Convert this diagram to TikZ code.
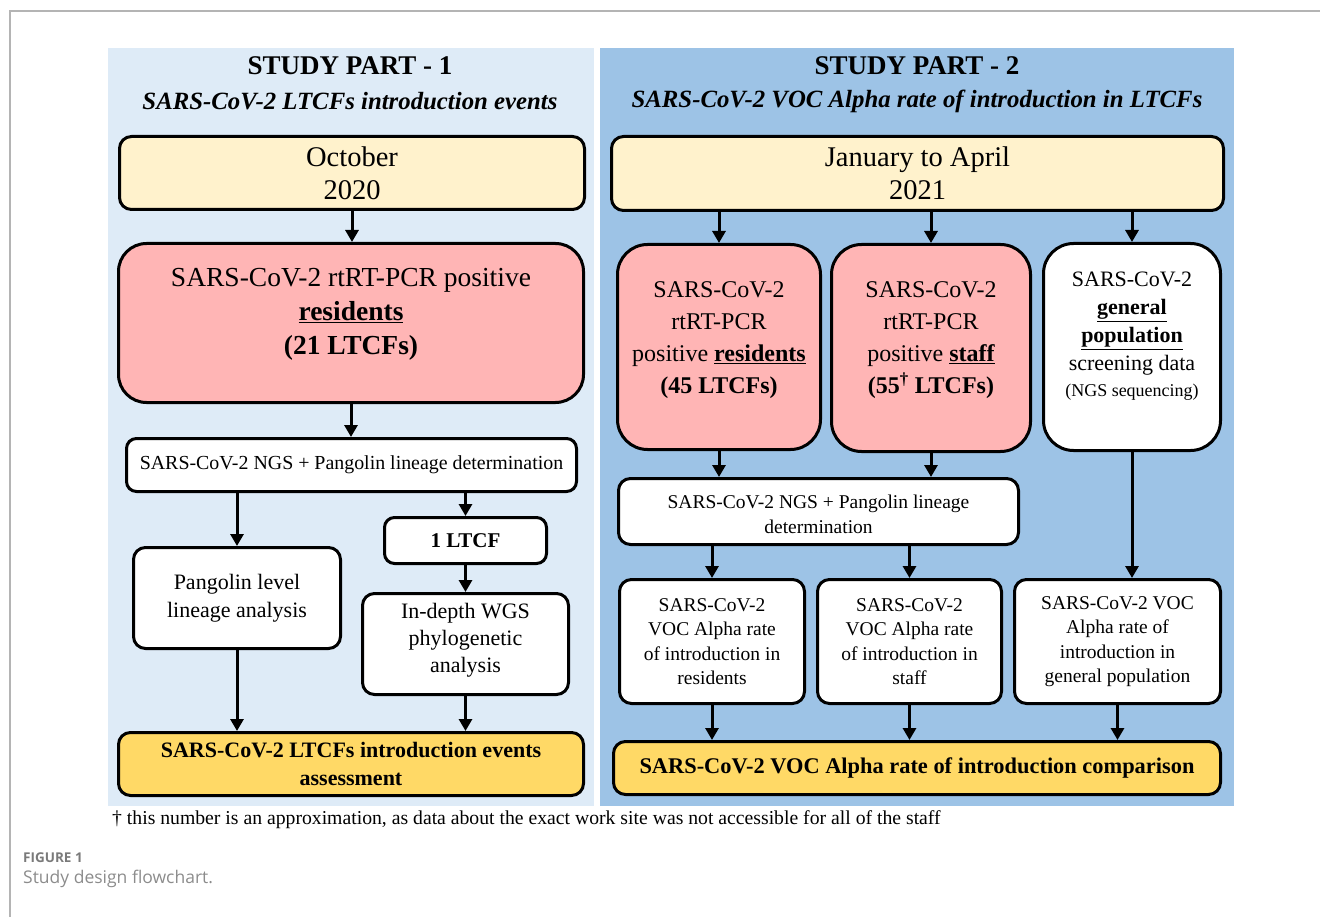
\documentclass[tikz,border=0pt]{standalone}
\usepackage{fontspec}
\setmainfont{Liberation Serif}
\newfontfamily\capfont{Open Sans}
\usetikzlibrary{arrows.meta}
\definecolor{bgL}{HTML}{DEEBF7}
\definecolor{bgR}{HTML}{9DC3E6}
\definecolor{cream}{HTML}{FFF2CC}
\definecolor{pinkf}{HTML}{FFB5B5}
\definecolor{gold}{HTML}{FFD966}
\definecolor{capgray}{HTML}{7A7A7A}
\definecolor{capgrayl}{HTML}{8C8C8C}
\definecolor{framegray}{HTML}{B4B4B4}
\newcommand{\fsz}[2]{\fontsize{#1}{#2}\selectfont}
\begin{document}
\begin{tikzpicture}[x=1pt,y=-1pt,
  box/.style={draw=black, line width=3pt, rounded corners=12pt, align=center, inner sep=0pt, fill=white},
  arr/.style={line width=3pt, -{Triangle[length=12pt,width=13pt]}},
  txt/.style={align=center, inner sep=0pt},
]
\useasboundingbox (0,0) rectangle (1320,917);
\draw[framegray, line width=1.5pt] (10,917) -- (10,11) -- (1320,11);
\fill[bgL] (108,48) rectangle (594,806);
\fill[bgR] (600,48) rectangle (1234,806);

% ---------- Part 1 ----------
\node[txt, font={\fsz{27}{30}\bfseries}] (t1) at (350,66) {STUDY PART - 1};
\node[txt, font={\fsz{24.8}{28}\bfseries\itshape}] (s1) at (350,101) {SARS-CoV-2 LTCFs introduction events};

\node[box, fill=cream, minimum width=465pt, minimum height=73pt, font={\fsz{28.5}{33}}] (oct) at (352,173)
  {October\\2020};
\node[box, fill=pinkf, rounded corners=28pt, minimum width=465pt, minimum height=159pt] (resL) at (351,323) {};
\node[txt, font={\fsz{27.5}{34}}] (resLt) at (351,314)
  {SARS-CoV-2 rtRT-PCR positive\\\textbf{\underline{residents}}\\\textbf{(21 LTCFs)}};
\node[box, rounded corners=10pt, minimum width=450pt, minimum height=53pt, font={\fsz{19.9}{23}}] (ngsL) at (351.5,465)
  {SARS-CoV-2 NGS + Pangolin lineage determination};
\node[box, rounded corners=10pt, minimum width=162pt, minimum height=46pt, font={\fsz{21}{25}\bfseries}] (one) at (465.5,540.5)
  {1 LTCF};
\node[box, minimum width=207pt, minimum height=101pt, font={\fsz{22}{28}}] (pang) at (237,598)
  {Pangolin level\\lineage analysis};
\node[box, minimum width=206pt, minimum height=101pt] (wgs) at (465.5,644) {};
\node[txt, font={\fsz{22}{27}}] (wgst) at (465.5,640)
  {In-depth WGS\\phylogenetic\\analysis};
\node[box, fill=gold, minimum width=465pt, minimum height=63pt, font={\fsz{22}{28}\bfseries}] (botL) at (351,764)
  {SARS-CoV-2 LTCFs introduction events\\assessment};

\draw[arr] (oct.south) -- (oct.south |- resL.north);
\draw[arr] (resL.south) -- (resL.south |- ngsL.north);
\draw[arr] (ngsL.south -| pang) -- (pang.north);
\draw[arr] (ngsL.south -| one) -- (one.north);
\draw[arr] (one.south) -- (wgs.north);
\draw[arr] (pang.south) -- (pang.south |- botL.north);
\draw[arr] (wgs.south) -- (wgs.south |- botL.north);

% ---------- Part 2 ----------
\node[txt, font={\fsz{27}{30}\bfseries}] (t2) at (917,66) {STUDY PART - 2};
\node[txt, font={\fsz{24.8}{28}\bfseries\itshape}] (s2) at (917,101) {SARS-CoV-2 VOC Alpha rate of introduction in LTCFs};

\node[box, fill=cream, minimum width=612pt, minimum height=74pt, font={\fsz{28.5}{33}}] (jan) at (917.5,173.5)
  {January to April\\2021};
\node[box, fill=pinkf, rounded corners=30pt, minimum width=203pt, minimum height=205pt] (resR) at (719,347) {};
\node[txt, font={\fsz{24}{32}}] (resRt) at (719,340.5)
  {SARS-CoV-2\\rtRT-PCR\\positive \textbf{\underline{residents}}\\\textbf{(45 LTCFs)}};
\node[box, fill=pinkf, rounded corners=30pt, minimum width=199pt, minimum height=207pt] (staff) at (931,348) {};
\node[txt, font={\fsz{24}{32}}] (stafft) at (931,340.5)
  {SARS-CoV-2\\rtRT-PCR\\positive \textbf{\underline{staff}}\\\textbf{(55\textsuperscript{†} LTCFs)}};
\node[box, rounded corners=30pt, minimum width=177pt, minimum height=207pt] (gen) at (1132,347) {};
\node[txt, font={\fsz{22}{28}}] (gent) at (1132,336.5)
  {SARS-CoV-2\\\textbf{\underline{general}}\\\textbf{\underline{population}}\\screening data\\[-2pt]{\fsz{18}{22}(NGS sequencing)}};
\node[box, rounded corners=12pt, minimum width=400pt, minimum height=66pt, font={\fsz{19.5}{25}}] (ngsR) at (818.5,511.5) {};
\node[txt, font={\fsz{19.5}{25}}] (ngsRt) at (818.5,514)
  {SARS-CoV-2 NGS + Pangolin lineage\\determination};
\node[box, minimum width=185pt, minimum height=124pt, font={\fsz{19.5}{24.5}}] (rateR) at (712,641.5)
  {SARS-CoV-2\\VOC Alpha rate\\of introduction in\\residents};
\node[box, minimum width=184pt, minimum height=124pt, font={\fsz{19.5}{24.5}}] (rateS) at (909.5,641.5)
  {SARS-CoV-2\\VOC Alpha rate\\of introduction in\\staff};
\node[box, minimum width=206pt, minimum height=124pt, font={\fsz{19.5}{24.5}}] (rateG) at (1117.5,641.5)
  {SARS-CoV-2 VOC\\Alpha rate of\\introduction in\\general population};
\node[box, fill=gold, minimum width=607pt, minimum height=53pt, font={\fsz{22.4}{28}\bfseries}] (botR) at (917,768)
  {SARS-CoV-2 VOC Alpha rate of introduction comparison};

\draw[arr] (jan.south -| resR) -- (resR.north);
\draw[arr] (jan.south -| staff) -- (staff.north);
\draw[arr] (jan.south -| gen) -- (gen.north);
\draw[arr] (resR.south) -- (resR.south |- ngsR.north);
\draw[arr] (staff.south) -- (staff.south |- ngsR.north);
\draw[arr] (ngsR.south -| rateR) -- (rateR.north);
\draw[arr] (ngsR.south -| rateS) -- (rateS.north);
\draw[arr] (gen.south) -- (gen.south |- rateG.north);
\draw[arr] (rateR.south) -- (rateR.south |- botR.north);
\draw[arr] (rateS.south) -- (rateS.south |- botR.north);
\draw[arr] (rateG.south) -- (rateG.south |- botR.north);

% ---------- footnote and caption ----------
\node[txt, anchor=west, font={\fsz{19.7}{22}}] (foot) at (112,820)
  {† this number is an approximation, as data about the exact work site was not accessible for all of the staff};
\node[txt, anchor=west, font={\capfont\bfseries\fsz{13.5}{16}}, text=capgray] (fig) at (23,858)
  {FIGURE 1};
\node[txt, anchor=west, font={\capfont\fsz{17.5}{20}}, text=capgrayl] (cap) at (23,879)
  {Study design flowchart.};
\end{tikzpicture}
\end{document}
